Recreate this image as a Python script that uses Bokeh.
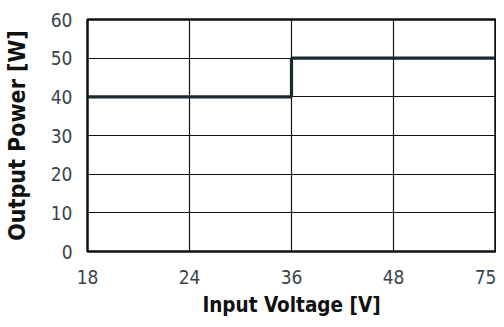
from bokeh.plotting import figure
from bokeh.embed import file_html
from bokeh.resources import INLINE
from bokeh.models import Range1d, FixedTicker

voltage_labels = ["18", "24", "36", "48", "75"]
step_voltages = ["18", "36", "75"]
step_power = [40, 50, 50]
y_ticks = [0, 10, 20, 30, 40, 50, 60]

FONT = "DejaVu Sans Condensed"

p = figure(width=496, height=319, output_backend="svg", toolbar_location=None,
           x_range=Range1d(0, len(voltage_labels) - 1), y_range=Range1d(0, 60),
           min_border_left=86, min_border_right=1, min_border_top=19, min_border_bottom=68)

xs = [voltage_labels.index(v) for v in step_voltages]
p.step(xs, step_power, mode="after", line_color="#1b2a30", line_width=3.2)

p.xaxis.ticker = FixedTicker(ticks=list(range(len(voltage_labels))))
p.xaxis.major_label_overrides = {i: l for i, l in enumerate(voltage_labels)}
p.yaxis.ticker = FixedTicker(ticks=y_ticks)

for ax in (p.xaxis[0], p.yaxis[0]):
    ax.axis_line_color = None
    ax.major_tick_line_color = None
    ax.minor_tick_line_color = None
    ax.major_label_text_font = FONT
    ax.major_label_text_font_size = "19px"
    ax.major_label_text_color = "#3a4448"
    ax.axis_label_text_font = FONT
    ax.axis_label_text_font_style = "bold"
    ax.axis_label_text_color = "#111111"

p.xaxis.axis_label = "Input Voltage [V]"
p.yaxis.axis_label = "Output Power [W]"
p.xaxis.axis_label_text_font_size = "20.5px"
p.yaxis.axis_label_text_font_size = "23px"
p.xaxis.major_label_standoff = 12
p.yaxis.major_label_standoff = 9
p.xaxis.axis_label_standoff = 6
p.yaxis.axis_label_standoff = 18

p.xgrid.grid_line_color = "#111111"
p.ygrid.grid_line_color = "#111111"
p.xgrid.grid_line_width = 1.2
p.ygrid.grid_line_width = 1.2
p.outline_line_color = "#111111"
p.outline_line_width = 2.5
p.background_fill_color = "white"
p.border_fill_color = "white"

open("out.html", "w").write(file_html(p, INLINE))
